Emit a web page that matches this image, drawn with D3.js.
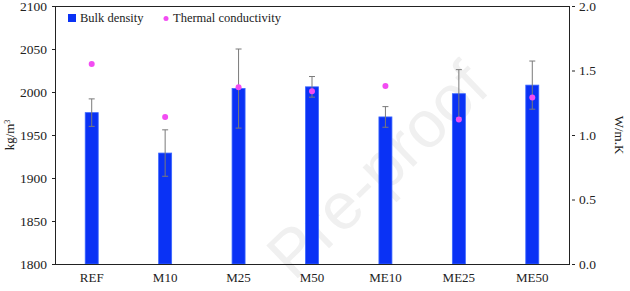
<!DOCTYPE html>
<html>
<head>
<meta charset="utf-8">
<script src="https://cdn.jsdelivr.net/npm/d3@7"></script>
<style>
  body { margin: 0; background: #fff; }
  svg { display: block; }
  svg text { font-family: "Times New Roman", Times, "Liberation Serif", serif; }
  svg text.wm { font-family: "Liberation Sans", Arial, sans-serif; }
</style>
</head>
<body>
<svg id="chart"></svg>
<script>
// data
const categories = ["REF", "M10", "M25", "M50", "ME10", "ME25", "ME50"];
const bulkDensity = [1976, 1929, 2004, 2006, 1971, 1998, 2008];
const densityError = [16, 27, 46, 12, 12, 28, 28];
const thermalConductivity = [1.55, 1.14, 1.37, 1.34, 1.38, 1.12, 1.29];
const leftTicks = [1800, 1850, 1900, 1950, 2000, 2050, 2100];
const rightTicks = [0, 0.5, 1.0, 1.5, 2.0];

const W = 630, H = 291;
const margin = { top: 6, right: 61, bottom: 27, left: 55 };
const width = W - margin.left - margin.right;
const height = H - margin.top - margin.bottom;

const svg = d3.select("#chart").attr("width", W).attr("height", H);

// watermark
svg.append("text")
    .attr("class", "wm")
    .attr("transform", "translate(294,282) rotate(-44)")
    .attr("font-size", 66)
    .attr("fill", "#f0f0f0")
    .text("Pre-proof");

const g = svg.append("g").attr("transform", `translate(${margin.left},${margin.top})`);

const x = d3.scaleBand().domain(categories).range([0, width]).padding(0);
const y = d3.scaleLinear().domain([1800, 2100]).range([height, 0]);
const y2 = d3.scaleLinear().domain([0, 2]).range([height, 0]);

const barW = 13;

// bars
g.selectAll(".bar")
    .data(categories)
    .enter().append("rect")
    .attr("class", "bar")
    .attr("x", d => x(d) + x.bandwidth() / 2 - barW / 2)
    .attr("y", (d, i) => y(bulkDensity[i]))
    .attr("width", barW)
    .attr("height", (d, i) => height - y(bulkDensity[i]))
    .attr("fill", "#0a32f5")
    .attr("stroke", "#3a66ff")
    .attr("stroke-width", 0.8);

// error bars
const err = g.selectAll(".err")
    .data(categories)
    .enter().append("g")
    .attr("class", "err")
    .attr("stroke", "#7a7a7a")
    .attr("stroke-width", 1);

err.append("line")
    .attr("x1", d => x(d) + x.bandwidth() / 2)
    .attr("x2", d => x(d) + x.bandwidth() / 2)
    .attr("y1", (d, i) => y(bulkDensity[i] + densityError[i]))
    .attr("y2", (d, i) => y(bulkDensity[i] - densityError[i]));
err.append("line")
    .attr("x1", d => x(d) + x.bandwidth() / 2 - 3)
    .attr("x2", d => x(d) + x.bandwidth() / 2 + 3)
    .attr("y1", (d, i) => y(bulkDensity[i] + densityError[i]))
    .attr("y2", (d, i) => y(bulkDensity[i] + densityError[i]));
err.append("line")
    .attr("x1", d => x(d) + x.bandwidth() / 2 - 3)
    .attr("x2", d => x(d) + x.bandwidth() / 2 + 3)
    .attr("y1", (d, i) => y(bulkDensity[i] - densityError[i]))
    .attr("y2", (d, i) => y(bulkDensity[i] - densityError[i]));

// thermal conductivity dots
g.selectAll(".dot")
    .data(categories)
    .enter().append("circle")
    .attr("class", "dot")
    .attr("cx", d => x(d) + x.bandwidth() / 2)
    .attr("cy", (d, i) => y2(thermalConductivity[i]))
    .attr("r", 3)
    .attr("fill", "#f24cf2");

// frame
g.append("rect")
    .attr("width", width)
    .attr("height", height)
    .attr("fill", "none")
    .attr("stroke", "#222")
    .attr("stroke-width", 1)
    .attr("shape-rendering", "crispEdges");

// left axis
const yAxis = g.append("g")
    .call(d3.axisLeft(y).tickValues(leftTicks).tickSize(3).tickPadding(5).tickFormat(d3.format("d")));
yAxis.attr("font-family", null);
yAxis.select(".domain").remove();
yAxis.selectAll("text").attr("font-size", 13.5).attr("fill", "#222");
yAxis.selectAll("line").attr("stroke", "#222");

// right axis
const y2Axis = g.append("g")
    .attr("transform", `translate(${width},0)`)
    .call(d3.axisRight(y2).tickValues(rightTicks).tickSize(0).tickPadding(10).tickFormat(d3.format(".1f")));
y2Axis.attr("font-family", null);
y2Axis.select(".domain").remove();
y2Axis.selectAll("text").attr("font-size", 13.5).attr("fill", "#222");
y2Axis.selectAll(".tick").append("line")
    .attr("x1", 3).attr("x2", 6)
    .attr("stroke", "#222");

// bottom axis
const xAxis = g.append("g")
    .attr("transform", `translate(0,${height})`)
    .call(d3.axisBottom(x).tickSize(0).tickPadding(9));
xAxis.attr("font-family", null);
xAxis.select(".domain").remove();
xAxis.selectAll("text").attr("font-size", 13).attr("fill", "#222");

// axis titles
svg.append("text")
    .attr("transform", "translate(14,135) rotate(-90)")
    .attr("text-anchor", "middle")
    .attr("font-size", 13)
    .attr("fill", "#222")
    .html('kg/m<tspan baseline-shift="super" font-size="8">3</tspan>');

svg.append("text")
    .attr("transform", "translate(615,135) rotate(90)")
    .attr("text-anchor", "middle")
    .attr("font-size", 13)
    .attr("fill", "#222")
    .text("W/m.K");

// legend
const legend = svg.append("g").attr("transform", "translate(68,14)");
legend.append("rect").attr("width", 8).attr("height", 8).attr("fill", "#0a32f5");
legend.append("text").attr("x", 12).attr("y", 8).attr("font-size", 12.5).attr("fill", "#222").text("Bulk density");
legend.append("circle").attr("cx", 98).attr("cy", 4.5).attr("r", 2.5).attr("fill", "#f24cf2");
legend.append("text").attr("x", 105).attr("y", 8).attr("font-size", 12.5).attr("fill", "#222").text("Thermal conductivity");
</script>
</body>
</html>
